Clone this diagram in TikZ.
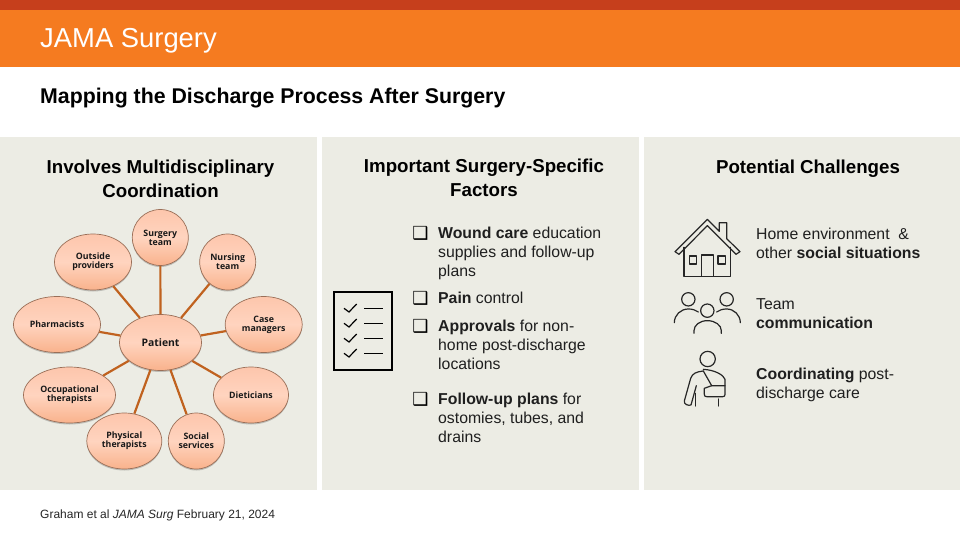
\documentclass[tikz,border=0pt]{standalone}
\usepackage{fontspec}
\setmainfont{Liberation Sans}
\newfontfamily\nodefont{Open Sans}
\newfontfamily\symfont{DejaVu Sans}
\usetikzlibrary{shadows,shapes.geometric}
\definecolor{topbar}{HTML}{C63F1C}
\definecolor{orangebar}{HTML}{F57B20}
\definecolor{panelbg}{HTML}{ECECE4}
\definecolor{linkcol}{HTML}{C0621F}
\definecolor{peachtop}{HTML}{FDC6AC}
\definecolor{peachmid}{HTML}{FFD4BF}
\definecolor{peachbot}{HTML}{F9B28C}
\definecolor{rimcol}{HTML}{9A6F58}
\tikzset{
  panel/.style={fill=panelbg,draw=none},
  blob/.style={ellipse,draw=rimcol,line width=.7pt,top color=peachtop,bottom color=peachbot,middle color=peachmid,
    minimum height=56pt,inner sep=0pt,align=center,font=\nodefont\fontsize{8.8}{9}\selectfont\bfseries,text=black!90,
    drop shadow={shadow xshift=0pt,shadow yshift=-1.5pt,opacity=.2,fill=black}},
  link/.style={draw=linkcol,line width=2.2pt},
  heading/.style={font=\fontsize{18.7}{23.5}\selectfont\bfseries,align=center,text=black,inner sep=0pt},
  body/.style={font=\fontsize{15.8}{19}\selectfont,align=left,anchor=north west,inner sep=0pt,text=black!88},
  bulletmark/.style={font=\symfont\fontsize{18}{18}\selectfont,anchor=center,inner sep=0pt,text=black},
  icon/.style={draw=black!85,line width=1.2pt,line join=round,line cap=round,fill=none},
  iconthick/.style={draw=black,line width=2.2pt}
}
\begin{document}
\begin{tikzpicture}[x=1pt,y=-1pt]
\useasboundingbox (0,0) rectangle (960,540);
\fill[white] (0,0) rectangle (960,540);
\fill[topbar] (0,0) rectangle (960,10);
\fill[orangebar] (0,10) rectangle (960,67);
\node[anchor=base west,inner sep=0pt,text=white,font=\fontsize{27.4}{27}\selectfont] (brand) at (40,47.5) {JAMA Surgery};
\node[anchor=base west,inner sep=0pt,font=\fontsize{21.3}{22}\selectfont\bfseries] (title) at (40,103.5) {Mapping the Discharge Process After Surgery};
\fill[panel] (0,137) rectangle (317,490);
\fill[panel] (322,137) rectangle (639,490);
\fill[panel] (644,137) rectangle (960,490);
\node[heading] (h1) at (160.5,179) {Involves Multidisciplinary\\Coordination};
\node[heading] (h2) at (484,178) {Important Surgery-Specific\\Factors};
\node[heading] (h3) at (808,168.5) {Potential Challenges};
% hub and spokes
\node[blob,minimum width=82pt,font=\nodefont\fontsize{10.4}{11}\selectfont\bfseries] (patient) at (160.5,342.5) {Patient};
\node[blob,minimum width=56pt] (surgery) at (160.3,237.5) {Surgery\\team};
\node[blob,minimum width=56pt] (nursing) at (227.7,262) {Nursing\\team};
\node[blob,minimum width=77pt] (case) at (263.7,324.5) {Case\\managers};
\node[blob,minimum width=75pt] (diet) at (251,395) {Dieticians};
\node[blob,minimum width=56pt] (social) at (196.3,441) {Social\\services};
\node[blob,minimum width=75pt] (physical) at (124.3,441) {Physical\\therapists};
\node[blob,minimum width=92pt] (occ) at (69.5,395) {Occupational\\therapists};
\node[blob,minimum width=87pt] (pharm) at (57,324.5) {Pharmacists};
\node[blob,minimum width=77pt] (outside) at (93,262) {Outside\\providers};
\foreach \n in {surgery,nursing,case,diet,social,physical,occ,pharm,outside}{
  \draw[link] (patient) -- (\n);
}
% checklist icon
\begin{scope}[shift={(320,210)},x=.3333pt,y=-.3333pt]
\draw[iconthick] (42,245) rectangle (216,480);
\foreach \yy in {295,340,385,430}{
  \draw[draw=black,line width=1.2pt] (72,\yy) -- (87,\yy+11) -- (110,\yy-13);
  \draw[draw=black,line width=1.2pt] (133,\yy) -- (188,\yy);
}
\end{scope}
% bullets
\foreach \yy/\nm in {233/b1,298/b2,326/b3,399/b4}{
  \node[bulletmark] (\nm) at (420.5,\yy) {❑};
}
\node[body] (t1) at (438,227) {\textbf{Wound care} education\\supplies and follow-up\\plans};
\node[body] (t2) at (438,292) {\textbf{Pain} control};
\node[body] (t3) at (438,320) {\textbf{Approvals} for non-\\home post-discharge\\locations};
\node[body] (t4) at (438,393) {\textbf{Follow-up plans} for\\ostomies, tubes, and\\drains};
% right column text
\node[body] (r1) at (756,228) {Home environment \ \&\\other \textbf{social situations}};
\node[body] (r2) at (756,298) {Team\\\textbf{communication}};
\node[body] (r3) at (756,368) {\textbf{Coordinating} post-\\discharge care};
% house icon
\begin{scope}[shift={(660,210)},x=.3333pt,y=-.3333pt]
\draw[icon] (45,125) -- (142,28) -- (178,64) -- (178,38) -- (200,38) -- (200,86) -- (240,125) -- (228,133) -- (142,47) -- (57,133) -- cycle;
\draw[icon] (72,112) -- (72,199) -- (212,199) -- (212,112);
\draw[icon] (125,199) -- (125,135) -- (160,135) -- (160,199);
\draw[icon] (88,138) rectangle (110,162);
\draw[icon] (174,138) rectangle (197,162);
% people icon
\draw[icon] (85,268) circle (20);
\draw[icon] (200,268) circle (20);
\draw[icon] (142,302) circle (20);
\draw[icon] (43,338) .. controls (43,315) and (62,297) .. (85,297) .. controls (97,297) and (107,300) .. (115,306);
\draw[icon] (241,338) .. controls (241,315) and (222,297) .. (200,297) .. controls (188,297) and (178,300) .. (170,306);
\draw[icon] (102,370) -- (102,362) .. controls (102,345) and (120,332) .. (142,332) .. controls (165,332) and (184,345) .. (184,362) -- (184,370);
\end{scope}
% injured person icon
\begin{scope}[shift={(675,345)},x=.3333pt,y=-.3333pt]
\draw[icon] (98,42) circle (23);
\draw[icon] (85,78) .. controls (65,80) and (52,85) .. (47,100) -- (28,168) .. controls (26,178) and (40,183) .. (48,180) -- (64,122);
\draw[icon] (62,145) -- (62,183);
\draw[icon] (85,78) -- (110,122) -- (150,122) -- (150,103) .. controls (146,90) and (120,75) .. (85,73);
\draw[icon] (110,122) -- (88,130) -- (88,148) .. controls (88,153) and (90,155) .. (95,155) -- (143,155) .. controls (148,155) and (150,153) .. (150,148) -- (150,122);
\draw[icon] (131,162) -- (131,183);
\end{scope}
\node[anchor=base west,inner sep=0pt,font=\fontsize{12}{13}\selectfont,text=black!85] (foot) at (40,518) {Graham et al \textit{JAMA Surg} February 21, 2024};
\end{tikzpicture}
\end{document}
